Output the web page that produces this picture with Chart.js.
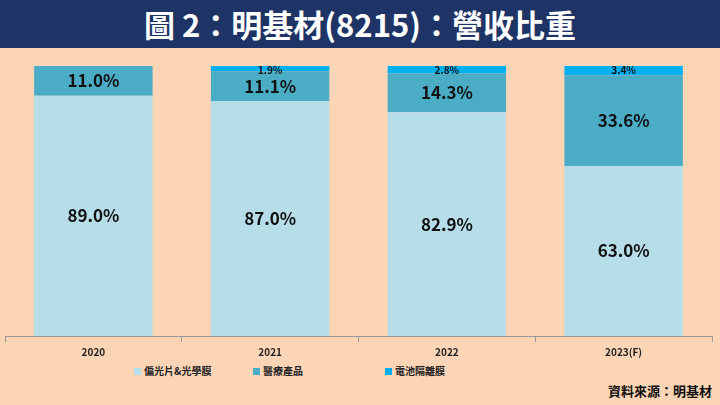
<!DOCTYPE html><html><head><meta charset="utf-8">
<script src="https://cdn.jsdelivr.net/npm/chart.js@4"></script>
<style>
body{margin:0;width:720px;height:405px;background:#fbd5b5;font-family:"Noto Sans CJK TC",sans-serif;position:relative;overflow:hidden}
#t{position:absolute;left:0;top:0;width:720px;height:48px;background:#1f3466;color:#fff;font-size:31px;font-weight:bold;text-align:center;line-height:48px}
#c{position:absolute;left:0;top:60px;width:720px;height:302px}
#lg{position:absolute;top:363px;left:0;width:720px;font-size:10px;font-weight:bold;color:#222}
#lg span{position:absolute;white-space:nowrap}
#lg i{display:inline-block;width:7px;height:7px;margin-right:3px;vertical-align:0px}
#src{position:absolute;right:8px;top:381px;font-size:13px;font-weight:bold;color:#111}
</style></head><body>
<div id="t">圖 2：明基材(8215)：營收比重</div>
<div id="c"><canvas id="cv"></canvas></div>
<div id="lg"></div>
<div id="src">資料來源：明基材</div>
<script>
const categories=["2020","2021","2022","2023(F)"];
const seriesNames=["偏光片&光學膜","醫療產品","電池隔離膜"];
const polarizer=[89.0,87.0,82.9,63.0];
const medical=[11.0,11.1,14.3,33.6];
const battery=[0,1.9,2.8,3.4];
const colors=["#b7dde8","#4bacc6","#00b0f0"];
const legendX=[134,253,385];
const lg=document.getElementById('lg');
seriesNames.forEach((n,i)=>{const s=document.createElement('span');s.style.left=legendX[i]+'px';s.innerHTML='<i style="background:'+colors[i]+'"></i>'+n;lg.appendChild(s);});
const labelPlugin={id:'lbl',afterDatasetsDraw(ch){const ctx=ch.ctx;ctx.save();ctx.textAlign='center';ctx.textBaseline='middle';ctx.fillStyle='#111';
ch.data.datasets.forEach((ds,di)=>{ch.getDatasetMeta(di).data.forEach((el,i)=>{const v=ds.data[i];if(!v)return;
if(di===2){ctx.font='bold 10px "Noto Sans CJK TC",sans-serif';ctx.fillText(v.toFixed(1)+'%',el.x,el.y+4);}
else{ctx.font='bold 17px "Noto Sans CJK TC",sans-serif';ctx.fillText(v.toFixed(1)+'%',el.x,(el.y+el.base)/2);}});});ctx.restore();}};
new Chart(document.getElementById('cv'),{type:'bar',
data:{labels:categories,datasets:[
{label:seriesNames[0],data:polarizer,backgroundColor:colors[0]},
{label:seriesNames[1],data:medical,backgroundColor:colors[1]},
{label:seriesNames[2],data:battery,backgroundColor:colors[2]}]},
options:{responsive:true,maintainAspectRatio:false,animation:false,
layout:{padding:{left:5,right:8,top:6,bottom:0}},
datasets:{bar:{barPercentage:0.67,categoryPercentage:1}},
plugins:{legend:{display:false},tooltip:{enabled:false}},
scales:{x:{stacked:true,grid:{offset:true,drawOnChartArea:false,color:'#999',tickLength:6},border:{color:'#999'},ticks:{color:'#222',font:{size:10,weight:'bold',family:'"Noto Sans CJK TC"'},padding:4}},
y:{stacked:true,min:0,max:100,display:false}}},
plugins:[labelPlugin]});
</script></body></html>
